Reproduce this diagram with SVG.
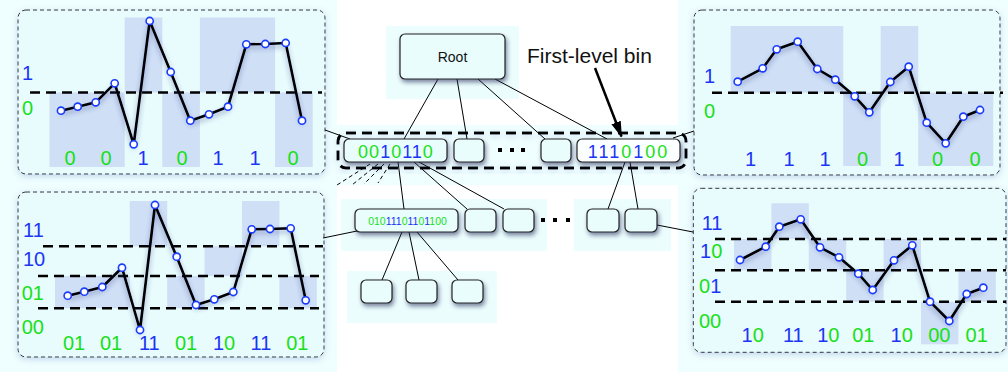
<svg xmlns="http://www.w3.org/2000/svg" width="1008" height="379" viewBox="0 0 1008 379">
<defs>
<filter id="boxShadow" x="-30%" y="-40%" width="160%" height="200%">
<feDropShadow dx="1.5" dy="3" stdDeviation="2" flood-color="#1a2a55" flood-opacity="0.55"/>
</filter>
<filter id="lineShadow" x="-10%" y="-10%" width="120%" height="130%">
<feDropShadow dx="0" dy="3" stdDeviation="2.5" flood-color="#2a3a80" flood-opacity="0.45"/>
</filter>
<filter id="panelGlow" x="-10%" y="-10%" width="120%" height="125%">
<feDropShadow dx="0" dy="2" stdDeviation="3" flood-color="#8aa8d8" flood-opacity="0.45"/>
</filter>
<marker id="arrow" viewBox="0 0 16 10" refX="15" refY="5" markerWidth="6.4" markerHeight="4" orient="auto" markerUnits="strokeWidth">
<path d="M0,0 L16,5 L0,10 z" fill="#000"/>
</marker>
<style>
.back{fill:#effefe}
.panel{fill:#e8fbfd;stroke:#333;stroke-width:1;stroke-dasharray:4 3;filter:url(#panelGlow)}
.bin{fill:#cfdff6}
.thr{stroke:#000;stroke-width:2.6;stroke-dasharray:10 6;fill:none}
.curve{fill:none;stroke:#000;stroke-width:2.6;stroke-linejoin:round}
.pt{fill:#fff;stroke:#1a3cff;stroke-width:1.6}
.lbl{font-family:"Liberation Sans",Arial,sans-serif;font-size:20px}
.b{fill:#1b35f5}
.g{fill:#18e018}
.node{fill:#e9fdfd;stroke:#222;stroke-width:1.2;filter:url(#boxShadow)}
.conn{stroke:#000;stroke-width:1;fill:none}
.dconn{stroke:#000;stroke-width:1;fill:none;stroke-dasharray:4 3}
.tree{fill:#ecfdfd}
</style>
</defs>
<rect x="0" y="0" width="1008" height="379" fill="#fff"/>
<!-- backings -->
<rect class="back" x="0" y="0" width="337" height="372"/>
<rect class="back" x="678" y="0" width="330" height="372"/>
<rect class="back" x="330" y="125" width="365" height="60"/>
<rect class="tree" x="386" y="26" width="133" height="73"/>
<rect class="tree" x="341" y="199" width="206" height="52"/>
<rect class="tree" x="574" y="199" width="97" height="52"/>
<rect class="tree" x="347" y="271" width="150" height="52"/>

<!-- top-left panel -->
<g id="panel-top-left">
<rect class="panel" x="18" y="10" width="307" height="164" rx="8"/>
<rect class="bin" x="49.5" y="92.5" width="75.2" height="74.5"/>
<rect class="bin" x="124.7" y="17.5" width="37.6" height="75"/>
<rect class="bin" x="162.3" y="92.5" width="37.6" height="74.5"/>
<rect class="bin" x="199.9" y="17.5" width="75.2" height="75"/>
<rect class="bin" x="275.1" y="92.5" width="37.6" height="74.5"/>
<line class="thr" x1="30" y1="92.5" x2="322" y2="92.5"/>
<text class="lbl b" x="22" y="80">1</text>
<text class="lbl g" x="22" y="115">0</text>
<polyline class="curve" filter="url(#lineShadow)" points="61,110.7 77.7,106.7 95.7,102.3 114.7,83.3 133.7,144.3 149.7,21 170.7,72 190.3,120.7 209,114.3 228,106.7 246.3,44.3 265.3,44 285.7,43 302,120.7"/>
<g>
<circle class="pt" cx="61" cy="110.7" r="3.6"/><circle class="pt" cx="77.7" cy="106.7" r="3.6"/><circle class="pt" cx="95.7" cy="102.3" r="3.6"/><circle class="pt" cx="114.7" cy="83.3" r="3.6"/><circle class="pt" cx="133.7" cy="144.3" r="3.6"/><circle class="pt" cx="149.7" cy="21" r="3.6"/><circle class="pt" cx="170.7" cy="72" r="3.6"/><circle class="pt" cx="190.3" cy="120.7" r="3.6"/><circle class="pt" cx="209" cy="114.3" r="3.6"/><circle class="pt" cx="228" cy="106.7" r="3.6"/><circle class="pt" cx="246.3" cy="44.3" r="3.6"/><circle class="pt" cx="265.3" cy="44" r="3.6"/><circle class="pt" cx="285.7" cy="43" r="3.6"/><circle class="pt" cx="302" cy="120.7" r="3.6"/>
</g>
<g text-anchor="middle">
<text class="lbl g" x="70" y="165">0</text>
<text class="lbl g" x="106" y="165">0</text>
<text class="lbl b" x="143" y="165">1</text>
<text class="lbl g" x="182" y="165">0</text>
<text class="lbl b" x="218" y="165">1</text>
<text class="lbl b" x="255" y="165">1</text>
<text class="lbl g" x="293" y="165">0</text>
</g>
</g>

<!-- top-right panel -->
<g id="panel-top-right">
<rect class="panel" x="694" y="10" width="306" height="165" rx="8"/>
<rect class="bin" x="730.7" y="26" width="112.5" height="66.7"/>
<rect class="bin" x="843.2" y="92.7" width="37.5" height="73.3"/>
<rect class="bin" x="880.7" y="26" width="37.5" height="66.7"/>
<rect class="bin" x="918.2" y="92.7" width="75" height="73.3"/>
<line class="thr" x1="712" y1="92.7" x2="1003" y2="92.7"/>
<text class="lbl b" x="704" y="83.3">1</text>
<text class="lbl g" x="704" y="118">0</text>
<polyline class="curve" filter="url(#lineShadow)" points="737.7,81.7 762.7,68.3 776.7,49.3 797.7,41.7 817.3,69 835.3,79.7 854.7,96.3 869.3,112.3 890.3,82 908.7,66.7 926.7,122.7 945.7,143.3 963.3,116.7 980,110"/>
<g>
<circle class="pt" cx="737.7" cy="81.7" r="3.6"/><circle class="pt" cx="762.7" cy="68.3" r="3.6"/><circle class="pt" cx="776.7" cy="49.3" r="3.6"/><circle class="pt" cx="797.7" cy="41.7" r="3.6"/><circle class="pt" cx="817.3" cy="69" r="3.6"/><circle class="pt" cx="835.3" cy="79.7" r="3.6"/><circle class="pt" cx="854.7" cy="96.3" r="3.6"/><circle class="pt" cx="869.3" cy="112.3" r="3.6"/><circle class="pt" cx="890.3" cy="82" r="3.6"/><circle class="pt" cx="908.7" cy="66.7" r="3.6"/><circle class="pt" cx="926.7" cy="122.7" r="3.6"/><circle class="pt" cx="945.7" cy="143.3" r="3.6"/><circle class="pt" cx="963.3" cy="116.7" r="3.6"/><circle class="pt" cx="980" cy="110" r="3.6"/>
</g>
<g text-anchor="middle">
<text class="lbl b" x="750.5" y="166">1</text>
<text class="lbl b" x="789" y="166">1</text>
<text class="lbl b" x="825" y="166">1</text>
<text class="lbl g" x="862.5" y="166">0</text>
<text class="lbl b" x="899" y="166">1</text>
<text class="lbl g" x="937.5" y="166">0</text>
<text class="lbl g" x="975" y="166">0</text>
</g>
</g>

<!-- bottom-left panel -->
<g id="panel-bottom-left">
<rect class="panel" x="18" y="192" width="306" height="165" rx="8"/>
<rect class="bin" x="55" y="276" width="74.8" height="32.3"/>
<rect class="bin" x="129.8" y="201" width="37.4" height="45.3"/>
<rect class="bin" x="167.2" y="276" width="37.4" height="32.3"/>
<rect class="bin" x="204.6" y="246.3" width="37.4" height="29.7"/>
<rect class="bin" x="242" y="201" width="37.4" height="45.3"/>
<rect class="bin" x="279.4" y="276" width="37.4" height="32.3"/>
<line class="thr" x1="43" y1="246.3" x2="323" y2="246.3"/>
<line class="thr" x1="38" y1="276" x2="319" y2="276"/>
<line class="thr" x1="38" y1="308.3" x2="319" y2="308.3"/>
<text class="lbl b" x="23" y="236.7">11</text>
<text class="lbl b" x="23" y="266">10</text>
<text class="lbl g" x="21.7" y="300">01</text>
<text class="lbl g" x="21.7" y="334">00</text>
<polyline class="curve" filter="url(#lineShadow)" points="67.7,295.7 84.3,291.7 102.3,287 122,267.7 140,330 155,205 176.7,256.7 196,305 214.3,299.3 233.3,292 251.7,229.3 270,229 290.7,228.3 305.7,300.3"/>
<g>
<circle class="pt" cx="67.7" cy="295.7" r="3.6"/><circle class="pt" cx="84.3" cy="291.7" r="3.6"/><circle class="pt" cx="102.3" cy="287" r="3.6"/><circle class="pt" cx="122" cy="267.7" r="3.6"/><circle class="pt" cx="140" cy="330" r="3.6"/><circle class="pt" cx="155" cy="205" r="3.6"/><circle class="pt" cx="176.7" cy="256.7" r="3.6"/><circle class="pt" cx="196" cy="305" r="3.6"/><circle class="pt" cx="214.3" cy="299.3" r="3.6"/><circle class="pt" cx="233.3" cy="292" r="3.6"/><circle class="pt" cx="251.7" cy="229.3" r="3.6"/><circle class="pt" cx="270" cy="229" r="3.6"/><circle class="pt" cx="290.7" cy="228.3" r="3.6"/><circle class="pt" cx="305.7" cy="300.3" r="3.6"/>
</g>
<g text-anchor="middle">
<text class="lbl g" x="74" y="350">01</text>
<text class="lbl g" x="111" y="350">01</text>
<text class="lbl b" x="149.3" y="350">11</text>
<text class="lbl g" x="186" y="350">01</text>
<text class="lbl" x="224" y="350"><tspan class="b">1</tspan><tspan class="g">0</tspan></text>
<text class="lbl b" x="261" y="350">11</text>
<text class="lbl g" x="297.3" y="350">01</text>
</g>
</g>

<!-- bottom-right panel -->
<g id="panel-bottom-right">
<rect class="panel" x="693.3" y="188.3" width="312.7" height="164" rx="8"/>
<rect class="bin" x="734" y="239" width="37.4" height="31.3"/>
<rect class="bin" x="771.4" y="203.3" width="37.4" height="35.7"/>
<rect class="bin" x="808.8" y="239" width="37.4" height="31.3"/>
<rect class="bin" x="846.2" y="270.3" width="37.4" height="31.4"/>
<rect class="bin" x="883.6" y="239" width="37.4" height="31.3"/>
<rect class="bin" x="921" y="301.7" width="37.4" height="42.6"/>
<rect class="bin" x="958.4" y="270.3" width="37.4" height="31.4"/>
<line class="thr" x1="715" y1="239" x2="1006" y2="239"/>
<line class="thr" x1="715" y1="270.3" x2="1006" y2="270.3" stroke-width="2"/>
<line class="thr" x1="715" y1="301.7" x2="1006" y2="301.7"/>
<text class="lbl b" x="701.7" y="230">11</text>
<text class="lbl" x="700" y="258.3"><tspan class="b">1</tspan><tspan class="g">0</tspan></text>
<text class="lbl" x="699" y="293.3"><tspan class="g">0</tspan><tspan class="b">1</tspan></text>
<text class="lbl g" x="699" y="327.7">00</text>
<polyline class="curve" filter="url(#lineShadow)" points="740,260 765.7,246.7 779.3,226.7 800.7,219.3 820,247.3 839,257.3 858.3,273.7 872.7,290 894,260.3 912.3,245.3 930,301.7 949.3,321 966.7,294 983.3,287.7"/>
<g>
<circle class="pt" cx="740" cy="260" r="3.6"/><circle class="pt" cx="765.7" cy="246.7" r="3.6"/><circle class="pt" cx="779.3" cy="226.7" r="3.6"/><circle class="pt" cx="800.7" cy="219.3" r="3.6"/><circle class="pt" cx="820" cy="247.3" r="3.6"/><circle class="pt" cx="839" cy="257.3" r="3.6"/><circle class="pt" cx="858.3" cy="273.7" r="3.6"/><circle class="pt" cx="872.7" cy="290" r="3.6"/><circle class="pt" cx="894" cy="260.3" r="3.6"/><circle class="pt" cx="912.3" cy="245.3" r="3.6"/><circle class="pt" cx="930" cy="301.7" r="3.6"/><circle class="pt" cx="949.3" cy="321" r="3.6"/><circle class="pt" cx="966.7" cy="294" r="3.6"/><circle class="pt" cx="983.3" cy="287.7" r="3.6"/>
</g>
<g text-anchor="middle">
<text class="lbl" x="752.7" y="342.3"><tspan class="b">1</tspan><tspan class="g">0</tspan></text>
<text class="lbl b" x="793.3" y="342.3">11</text>
<text class="lbl" x="828.3" y="342.3"><tspan class="b">1</tspan><tspan class="g">0</tspan></text>
<text class="lbl g" x="863.3" y="342.3">01</text>
<text class="lbl" x="901.7" y="342.3"><tspan class="b">1</tspan><tspan class="g">0</tspan></text>
<text class="lbl g" x="939.3" y="342.3">00</text>
<text class="lbl g" x="976.7" y="342.3">01</text>
</g>
</g>

<!-- first-level row frame -->
<g id="first-level-frame">
<rect x="338" y="133" width="348" height="35" rx="8" fill="none" stroke="#000" stroke-width="3" stroke-dasharray="10 6" filter="url(#panelGlow)"/>
</g>

<!-- connectors -->
<g id="connectors">
<line class="conn" x1="438" y1="79" x2="404" y2="139"/>
<line class="conn" x1="457" y1="79" x2="467" y2="139"/>
<line class="conn" x1="478" y1="79" x2="545" y2="139"/>
<line class="conn" x1="495" y1="79" x2="607" y2="139"/>
<line class="conn" x1="325" y1="130" x2="350" y2="139"/>
<line class="conn" x1="673" y1="138" x2="694" y2="131"/>
<line class="dconn" x1="370" y1="164" x2="337" y2="185"/>
<line class="dconn" x1="378" y1="164" x2="352" y2="185"/>
<line class="dconn" x1="384" y1="164" x2="364" y2="184"/>
<line class="dconn" x1="390" y1="164" x2="378" y2="183"/>
<line class="conn" x1="398" y1="162" x2="404" y2="209"/>
<line class="conn" x1="414" y1="162" x2="467" y2="209"/>
<line class="conn" x1="419" y1="162" x2="504" y2="209"/>
<line class="conn" x1="625" y1="162" x2="608" y2="209"/>
<line class="conn" x1="630" y1="162" x2="638" y2="209"/>
<line class="conn" x1="657" y1="225" x2="693" y2="232"/>
<line class="conn" x1="323" y1="238" x2="357" y2="231"/>
<line class="conn" x1="402" y1="232" x2="382" y2="280"/>
<line class="conn" x1="409" y1="232" x2="419" y2="280"/>
<line class="conn" x1="417" y1="232" x2="458" y2="280"/>
<line x1="595" y1="68" x2="621.5" y2="136.5" stroke="#000" stroke-width="2.5" marker-end="url(#arrow)"/>
</g>

<!-- nodes -->
<g id="node-root">
<rect class="node" x="400" y="34" width="105" height="45" rx="5"/>
<text x="452.5" y="61.5" text-anchor="middle" font-family="Liberation Sans, Arial, sans-serif" font-size="14" fill="#111">Root</text>
</g>
<text id="label-first-level" x="527" y="63" font-family="Liberation Sans, Arial, sans-serif" font-size="21" fill="#111">First-level bin</text>

<g id="node-l1-a">
<rect class="node" x="344" y="139" width="103" height="23" rx="5"/>
<text x="396" y="157.5" text-anchor="middle" font-family="Liberation Sans, Arial, sans-serif" font-size="18" letter-spacing="1"><tspan class="g">00</tspan><tspan class="b">1</tspan><tspan class="g">0</tspan><tspan class="b">11</tspan><tspan class="g">0</tspan></text>
</g>
<g id="node-l1-b"><rect class="node" x="454" y="139" width="30" height="23" rx="5"/></g>
<g id="dots-l1" fill="#000">
<rect x="498" y="148" width="4" height="4"/><rect x="510" y="148" width="4" height="4"/><rect x="521" y="148" width="4" height="4"/>
</g>
<g id="node-l1-c"><rect class="node" x="541" y="139" width="30" height="23" rx="5"/></g>
<g id="node-l1-d">
<rect class="node" x="577" y="139" width="103" height="23" rx="5" style="fill:#fbffff"/>
<text x="628.5" y="157.5" text-anchor="middle" font-family="Liberation Sans, Arial, sans-serif" font-size="18" letter-spacing="2"><tspan class="b">111</tspan><tspan class="g">0</tspan><tspan class="b">1</tspan><tspan class="g">00</tspan></text>
</g>

<g id="node-l2-a">
<rect class="node" x="355" y="209" width="103" height="23" rx="5"/>
<text x="407.5" y="224.5" text-anchor="middle" font-family="Liberation Sans, Arial, sans-serif" font-size="10.5"><tspan class="g">010</tspan><tspan class="b">111</tspan><tspan class="g">0</tspan><tspan class="b">11</tspan><tspan class="g">0</tspan><tspan class="b">1</tspan><tspan class="g">100</tspan></text>
</g>
<g id="node-l2-b"><rect class="node" x="465" y="209" width="31" height="23" rx="5"/></g>
<g id="node-l2-c"><rect class="node" x="503" y="209" width="31" height="23" rx="5"/></g>
<g id="dots-l2" fill="#000">
<rect x="541" y="218" width="4" height="4"/><rect x="553" y="218" width="4" height="4"/><rect x="566" y="218" width="4" height="4"/>
</g>
<g id="node-l2-d"><rect class="node" x="587" y="209" width="32" height="23" rx="5"/></g>
<g id="node-l2-e"><rect class="node" x="625" y="209" width="32" height="23" rx="5"/></g>

<g id="node-l3-a"><rect class="node" x="361" y="280" width="31" height="23" rx="5"/></g>
<g id="node-l3-b"><rect class="node" x="406" y="280" width="31" height="23" rx="5"/></g>
<g id="node-l3-c"><rect class="node" x="452" y="280" width="31" height="23" rx="5"/></g>
</svg>
